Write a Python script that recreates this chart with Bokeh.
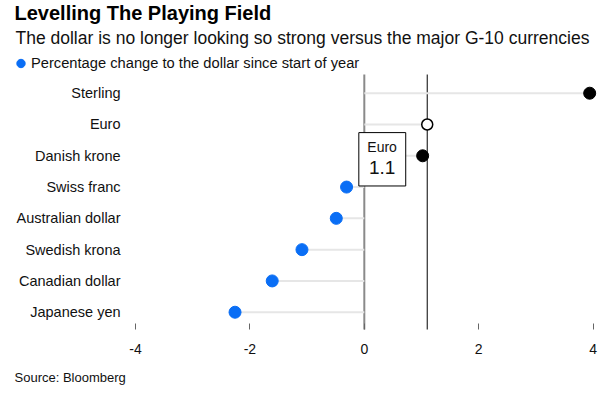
from bokeh.plotting import figure
from bokeh.models import Range1d, FixedTicker, Label, Legend, LegendItem
from bokeh.embed import file_html
from bokeh.resources import INLINE

# ---- data ----
categories = ["Sterling", "Euro", "Danish krone", "Swiss franc",
              "Australian dollar", "Swedish krona", "Canadian dollar", "Japanese yen"]
values = [3.94, 1.10, 1.02, -0.31, -0.49, -1.09, -1.61, -2.26]
x_ticks = [-4, -2, 0, 2, 4]
x_tick_labels = ["-4", "-2", "0", "2", "4"]
highlight = "Euro"

title_text = "Levelling The Playing Field"
subtitle_text = "The dollar is no longer looking so strong versus the major G-10 currencies"
legend_text = "Percentage change to the dollar since start of year"
source_text = "Source: Bloomberg"

# ---- layout constants ----
FONT = "Liberation Sans"
BLUE = "#0a6ef5"
W, H = 604, 386
X_LEFT_EDGE = -4.157     # left edge of the plotting area (y axis position)
ROW_PAD_TOP = 0.597      # space above the top row, in rows
ROW_PAD_BOTTOM = 0.553   # space below the bottom row, in rows

n = len(categories)
ypos = [n - 1 - i for i in range(n)]
y_top = max(ypos) + ROW_PAD_TOP
y_bot = min(ypos) - ROW_PAD_BOTTOM

p = figure(width=W, height=H, output_backend="svg", toolbar_location=None,
           title_location=None,
           x_range=Range1d(-6.360, 4.199), y_range=Range1d(-2.374, 9.963),
           min_border=0, background_fill_color="white", border_fill_color="white")
p.outline_line_color = None
p.grid.visible = False

hi = categories.index(highlight)
hv = values[hi]
hy = ypos[hi]

# zero line and highlight line
p.segment(x0=[0], y0=[y_bot], x1=[0], y1=[y_top], line_color="#8a8a8a", line_width=2)
p.segment(x0=[hv], y0=[y_bot], x1=[hv], y1=[y_top], line_color="black", line_width=1)

# stems
p.segment(x0=[0] * n, y0=ypos, x1=values, y1=ypos, line_color="#e6e6e6", line_width=2)

# dots
neg = [(v, y) for c, v, y in zip(categories, values, ypos) if v < 0 and c != highlight]
pos = [(v, y) for c, v, y in zip(categories, values, ypos) if v >= 0 and c != highlight]
r_blue = p.scatter([v for v, _ in neg], [y for _, y in neg], size=12, fill_color=BLUE, line_color=BLUE)
p.scatter([v for v, _ in pos], [y for _, y in pos], size=12, fill_color="black", line_color="black")
p.scatter([hv], [hy], size=11, fill_color="white", line_color="black", line_width=1.5)

# tooltip box
p.quad(left=[hv - 1.196], right=[hv - 0.376], top=[hy - 0.259], bottom=[hy - 1.965],
       fill_color="white", line_color="black", line_width=1)
p.add_layout(Label(x=hv - 0.789, y=hy - 0.719, text=highlight, text_align="center",
                   text_baseline="middle", text_font=FONT, text_font_size="14px", text_color="#111"))
p.add_layout(Label(x=hv - 0.789, y=hy - 1.377, text=f"{hv:.1f}", text_align="center",
                   text_baseline="middle", text_font=FONT, text_font_size="19px", text_color="#111"))

# axes (fixed inside the canvas)
xa = p.xaxis[0]
xa.fixed_location = y_bot
xa.ticker = FixedTicker(ticks=x_ticks)
xa.major_label_overrides = {t: s for t, s in zip(x_ticks, x_tick_labels)}
xa.axis_line_color = None
xa.major_tick_in = 6
xa.major_tick_out = 0
xa.major_tick_line_color = "#666666"
xa.minor_tick_line_color = None
xa.major_label_text_font = FONT
xa.major_label_text_font_size = "14px"
xa.major_label_text_color = "#111"
xa.major_label_standoff = 14

ya = p.yaxis[0]
ya.fixed_location = X_LEFT_EDGE
ya.ticker = FixedTicker(ticks=ypos)
ya.major_label_overrides = {y: c for y, c in zip(ypos, categories)}
ya.axis_line_color = None
ya.major_tick_line_color = None
ya.minor_tick_line_color = None
ya.major_tick_in = 0
ya.major_tick_out = 0
ya.major_label_text_font = FONT
ya.major_label_text_font_size = "14.5px"
ya.major_label_text_color = "#111"
ya.major_label_standoff = 6

# legend
legend = Legend(items=[LegendItem(label=legend_text, renderers=[r_blue])],
                location=(10, 312), padding=0, margin=0, glyph_width=21, glyph_height=22,
                label_height=22, label_standoff=0, label_text_font=FONT,
                label_text_font_size="14.7px", label_text_color="#111",
                border_line_color=None, background_fill_alpha=0)
p.add_layout(legend)

# title, subtitle, source (screen units from bottom-left)
p.add_layout(Label(x=14, y=H - 12.5, x_units="screen", y_units="screen", text=title_text,
                   text_font=FONT, text_font_size="20px", text_font_style="bold",
                   text_baseline="alphabetic", text_color="black"))
p.add_layout(Label(x=15, y=H - 37.5, x_units="screen", y_units="screen", text=subtitle_text,
                   text_font=FONT, text_font_size="17.5px",
                   text_baseline="alphabetic", text_color="#111"))
p.add_layout(Label(x=14, y=H - 376.5, x_units="screen", y_units="screen", text=source_text,
                   text_font=FONT, text_font_size="13px",
                   text_baseline="alphabetic", text_color="#111"))

open("out.html", "w").write(file_html(p, INLINE))
